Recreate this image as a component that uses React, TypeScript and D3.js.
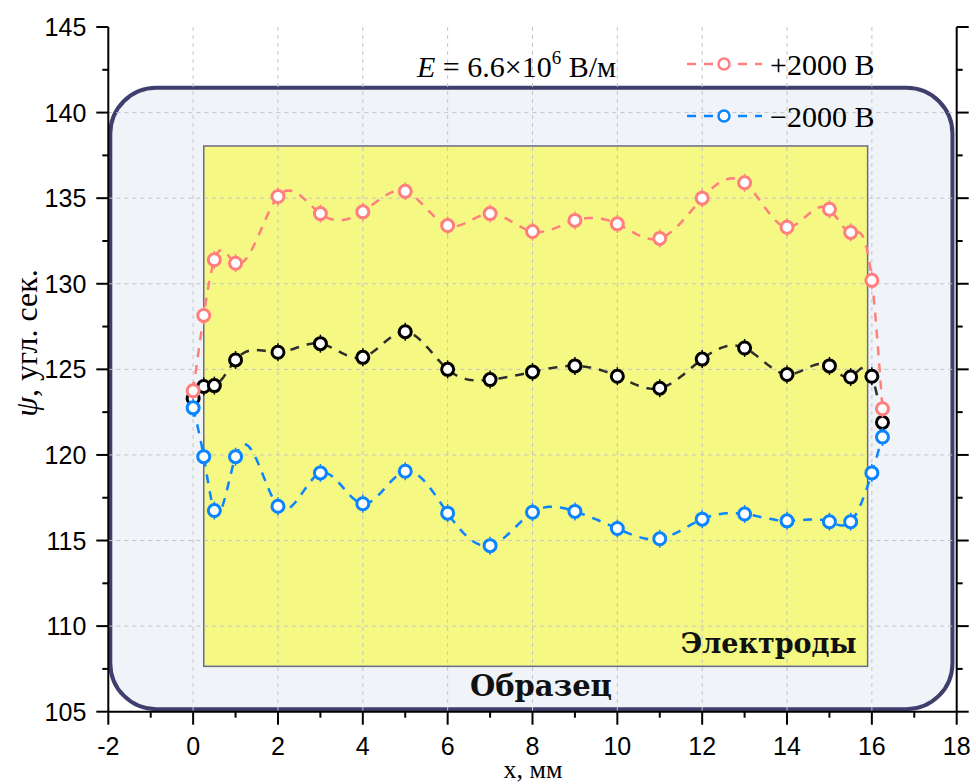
import React from "react";
import * as d3 from "d3";

const xValues = [0, 0.25, 0.5, 1, 2, 3, 4, 5, 6, 7, 8, 9, 10, 11, 12, 13, 14, 15, 15.5, 16, 16.25];
const plusSeries = [123.75, 128.15, 131.4, 131.2, 135.1, 134.1, 134.2, 135.4, 133.4, 134.1, 133.05, 133.7, 133.5, 132.65, 135.0, 135.9, 133.3, 134.35, 133.0, 130.2, 122.7];
const zeroSeries = [123.3, 124.0, 124.05, 125.55, 126.0, 126.5, 125.7, 127.2, 125.0, 124.4, 124.85, 125.2, 124.6, 123.9, 125.6, 126.25, 124.7, 125.2, 124.55, 124.6, 121.9];
const minusSeries = [122.75, 119.9, 116.75, 119.9, 117.0, 118.95, 117.15, 119.05, 116.6, 114.7, 116.65, 116.7, 115.7, 115.1, 116.25, 116.55, 116.15, 116.1, 116.1, 118.95, 121.05];

const xTicks = [-2, 0, 2, 4, 6, 8, 10, 12, 14, 16, 18];
const xMinorTicks = [-1, 1, 3, 5, 7, 9, 11, 13, 15, 17];
const yTicks = [105, 110, 115, 120, 125, 130, 135, 140, 145];
const yMinorTicks = [107.5, 112.5, 117.5, 122.5, 127.5, 132.5, 137.5, 142.5];

const legendLabels = ["+2000 В", "\u22122000 В"];
const sampleLabel = "Образец";
const electrodeLabel = "Электроды";

// regions in data units
const sampleBox = { x0: -2, x1: 17.9, y0: 105.15, y1: 141.45 };
const electrodeBox = { x0: 0.25, x1: 15.9, y0: 107.65, y1: 138.05 };

const W = 976;
const H = 784;

// natural cubic spline y(x) through the data points, sampled for drawing
function splinePoints(xs: number[], ys: number[], steps = 16): [number, number][] {
  const n = xs.length;
  const h: number[] = [];
  for (let i = 0; i < n - 1; i++) h.push(xs[i + 1] - xs[i]);
  const a: number[] = new Array(n).fill(0);
  const b: number[] = new Array(n).fill(1);
  const c: number[] = new Array(n).fill(0);
  const r: number[] = new Array(n).fill(0);
  for (let i = 1; i < n - 1; i++) {
    a[i] = h[i - 1];
    b[i] = 2 * (h[i - 1] + h[i]);
    c[i] = h[i];
    r[i] = 6 * ((ys[i + 1] - ys[i]) / h[i] - (ys[i] - ys[i - 1]) / h[i - 1]);
  }
  const cp: number[] = new Array(n).fill(0);
  const rp: number[] = new Array(n).fill(0);
  cp[0] = c[0] / b[0];
  rp[0] = r[0] / b[0];
  for (let i = 1; i < n; i++) {
    const m = b[i] - a[i] * cp[i - 1];
    cp[i] = c[i] / m;
    rp[i] = (r[i] - a[i] * rp[i - 1]) / m;
  }
  const M: number[] = new Array(n).fill(0);
  M[n - 1] = rp[n - 1];
  for (let i = n - 2; i >= 0; i--) M[i] = rp[i] - cp[i] * M[i + 1];
  const pts: [number, number][] = [];
  for (let i = 0; i < n - 1; i++) {
    for (let k = 0; k < steps; k++) {
      const t = k / steps;
      const xx = xs[i] + t * h[i];
      const A = (xs[i + 1] - xx) / h[i];
      const B = (xx - xs[i]) / h[i];
      const yy =
        A * ys[i] +
        B * ys[i + 1] +
        ((A * A * A - A) * M[i] + (B * B * B - B) * M[i + 1]) * (h[i] * h[i]) / 6;
      pts.push([xx, yy]);
    }
  }
  pts.push([xs[n - 1], ys[n - 1]]);
  return pts;
}

export default function App() {
  const x = d3.scaleLinear().domain([-2, 18]).range([108.3, 956.7]);
  const y = d3.scaleLinear().domain([105, 145]).range([711.7, 27]);

  const line = d3
    .line<[number, number]>()
    .x((d) => x(d[0]))
    .y((d) => y(d[1]));

  const series = [
    { values: zeroSeries, line: "#2e2e2e", mark: "#000000" },
    { values: plusSeries, line: "#ff7f7f", mark: "#ff7f7f" },
    { values: minusSeries, line: "#0a84ff", mark: "#0a84ff" },
  ];

  const sx0 = x(sampleBox.x0);
  const sx1 = x(sampleBox.x1);
  const sy0 = y(sampleBox.y1);
  const sy1 = y(sampleBox.y0);
  const ex0 = x(electrodeBox.x0);
  const ex1 = x(electrodeBox.x1);
  const ey0 = y(electrodeBox.y1);
  const ey1 = y(electrodeBox.y0);

  const serif = "'Liberation Serif', 'Times New Roman', serif";

  return (
    <div style={{ position: "absolute", left: 0, top: 0 }}>
      <svg width={W} height={H} style={{ display: "block", background: "#ffffff" }}>
        {/* sample box */}
        <rect
          x={sx0 + 2}
          y={sy0}
          width={sx1 - sx0 - 2}
          height={sy1 - sy0}
          rx={46}
          ry={46}
          fill="#f0f4f8"
          stroke="#3f3f6e"
          strokeWidth={4}
        />
        {/* electrodes */}
        <rect
          x={ex0}
          y={ey0}
          width={ex1 - ex0}
          height={ey1 - ey0}
          fill="#f6f884"
          stroke="#6a6a86"
          strokeWidth={1.5}
        />
        {/* grid */}
        <g stroke="#c4c4c4" strokeWidth={1} strokeDasharray="4,4">
          {xTicks.slice(1, -1).map((t) => (
            <line key={"gx" + t} x1={x(t)} x2={x(t)} y1={y(145)} y2={y(105)} />
          ))}
          {yTicks.slice(1, -1).map((t) => (
            <line key={"gy" + t} x1={x(-2)} x2={x(18)} y1={y(t)} y2={y(t)} />
          ))}
        </g>
        <text
          x={541}
          y={696}
          fontFamily="'DejaVu Serif', serif"
          fontWeight="bold"
          fontSize={29}
          textAnchor="middle"
          fill="#111"
        >
          {sampleLabel}
        </text>
        <text
          x={ex1 - 11}
          y={653}
          fontFamily="'DejaVu Serif', serif"
          fontWeight="bold"
          fontSize={27}
          textAnchor="end"
          fill="#111"
        >
          {electrodeLabel}
        </text>

        {/* axes */}
        <g stroke="#000" strokeWidth={2} fill="none">
          <line x1={x(-2)} x2={x(-2)} y1={y(145)} y2={y(105)} />
          <line x1={x(18)} x2={x(18)} y1={y(145)} y2={y(105)} />
          <line x1={x(-2)} x2={x(18)} y1={y(105)} y2={y(105)} />
          {yTicks.map((t) => (
            <g key={"yt" + t}>
              <line x1={x(-2) - 12} x2={x(-2)} y1={y(t)} y2={y(t)} />
              <line x1={x(18)} x2={x(18) + 12} y1={y(t)} y2={y(t)} />
            </g>
          ))}
          {yMinorTicks.map((t) => (
            <g key={"ymt" + t}>
              <line x1={x(-2) - 6} x2={x(-2)} y1={y(t)} y2={y(t)} />
              <line x1={x(18)} x2={x(18) + 6} y1={y(t)} y2={y(t)} />
            </g>
          ))}
          {xTicks.map((t) => (
            <line key={"xt" + t} x1={x(t)} x2={x(t)} y1={y(105)} y2={y(105) + 13} />
          ))}
          {xMinorTicks.map((t) => (
            <line key={"xmt" + t} x1={x(t)} x2={x(t)} y1={y(105)} y2={y(105) + 6} />
          ))}
        </g>
        <g fontFamily="'Liberation Sans', Arial, sans-serif" fontSize={25} fill="#000">
          {yTicks.map((t) => (
            <text key={"yl" + t} x={x(-2) - 22} y={y(t) + 9} textAnchor="end">
              {t}
            </text>
          ))}
          {xTicks.map((t) => (
            <text key={"xl" + t} x={x(t)} y={755} textAnchor="middle">
              {t}
            </text>
          ))}
        </g>
        <text x={533} y={778} fontFamily={serif} fontSize={26} textAnchor="middle">
          x, мм
        </text>
        <text
          transform={`translate(37, ${343}) rotate(-90)`}
          fontFamily={serif}
          fontSize={32}
          textAnchor="middle"
        >
          <tspan fontStyle="italic">ψ</tspan>, угл. сек.
        </text>

        {/* annotation */}
        <text x={417} y={77} fontFamily={serif} fontSize={30}>
          <tspan fontStyle="italic">E</tspan> = 6.6×10
          <tspan fontSize={19} dy={-13}>6</tspan>
          <tspan dy={13}> В/м</tspan>
        </text>

        {/* series */}
        {series.map((s, si) => (
          <g key={"s" + si}>
            <path
              d={line(splinePoints(xValues, s.values)) || ""}
              fill="none"
              stroke={s.line}
              strokeWidth={2.5}
              strokeDasharray="9,8"
            />
            {s.values.map((v, i) => (
              <g key={i}>
                <line
                  x1={x(xValues[i])}
                  x2={x(xValues[i])}
                  y1={y(v) - 9}
                  y2={y(v) + 9}
                  stroke={s.mark}
                  strokeWidth={1.5}
                />
                <circle
                  cx={x(xValues[i])}
                  cy={y(v)}
                  r={6}
                  fill="#ffffff"
                  stroke={s.mark}
                  strokeWidth={3}
                />
              </g>
            ))}
          </g>
        ))}

        {/* legend */}
        {[series[1], series[2]].map((s, i) => {
          const ly = 64 + i * 52;
          return (
            <g key={"lg" + i}>
              <line x1={687} x2={762} y1={ly} y2={ly} stroke={s.line} strokeWidth={2.5} strokeDasharray="9,8" />
              <circle cx={724} cy={ly} r={5.5} fill="#fff" stroke={s.mark} strokeWidth={2.5} />
              <text x={770} y={ly + 11} fontFamily={serif} fontSize={30}>
                {legendLabels[i]}
              </text>
            </g>
          );
        })}
      </svg>
    </div>
  );
}
